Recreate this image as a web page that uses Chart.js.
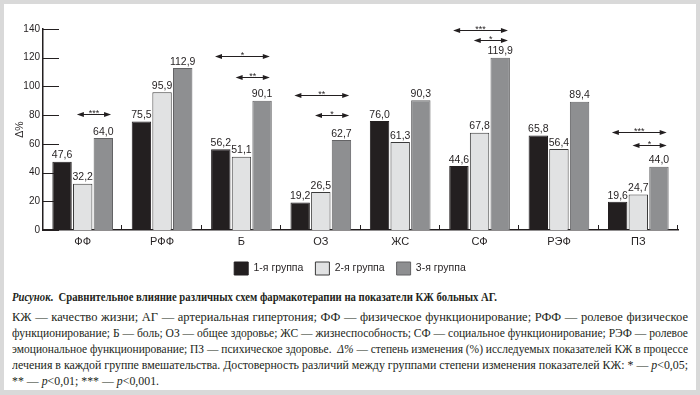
<!DOCTYPE html>
<html lang="ru">
<head>
    <meta charset="UTF-8">
    <title>Сравнительное влияние схем фармакотерапии на показатели КЖ</title>
    <script src="https://cdn.jsdelivr.net/npm/chart.js"></script>
    <style>
        body {
            margin: 0;
            width: 700px;
            height: 395px;
            background: #d9d9d9;
            position: relative;
            overflow: hidden;
        }
        .panel {
            position: absolute;
            left: 4px;
            top: 4px;
            width: 692px;
            height: 386px;
            background: #fff;
        }
        #chart {
            position: absolute;
            left: 0;
            top: 0;
        }
        .caption {
            position: absolute;
            left: 12px;
            top: 289px;
            width: 676px;
            font-family: "Liberation Serif", "Tinos", "DejaVu Serif", "Noto Serif", "Times New Roman", "Liberation Sans Narrow", serif;
            font-size: 12.5px;
            line-height: 16px;
            color: #231f20;
        }
        .caption .title {
            font-weight: bold;
            margin-bottom: 4px;
            white-space: nowrap;
        }
        .caption .line {
            text-align: justify;
            text-align-last: justify;
            white-space: nowrap;
        }
        .caption .line.last {
            text-align-last: left;
        }
        .caption span.fit {
            display: inline-block;
            transform-origin: 0 50%;
        }
    </style>
</head>
<body>
<div class="panel"></div>
<canvas id="chart" width="700" height="285"></canvas>
<div class="caption">
    <div class="title"><span><i>Рисунок</i>.&nbsp; Сравнительное влияние различных схем фармакотерапии на показатели КЖ больных АГ.</span></div>
    <div class="line"><span>КЖ — качество жизни; АГ — артериальная гипертония; ФФ — физическое функционирование; РФФ — ролевое физическое</span></div>
    <div class="line"><span>функционирование; Б — боль; ОЗ — общее здоровье; ЖС — жизнеспособность; СФ — социальное функционирование; РЭФ — ролевое</span></div>
    <div class="line"><span>эмоциональное функционирование; ПЗ — психическое здоровье. &nbsp;<i>Δ%</i> — степень изменения (%) исследуемых показателей КЖ в процессе</span></div>
    <div class="line"><span>лечения в каждой группе вмешательства. Достоверность различий между группами степени изменения показателей КЖ: * — <i>p</i>&lt;0,05;</span></div>
    <div class="line last"><span>** — <i>p</i>&lt;0,01; *** — <i>p</i>&lt;0,001.</span></div>
</div>
<script>
    // данные
    const categories = ['ФФ', 'РФФ', 'Б', 'ОЗ', 'ЖС', 'СФ', 'РЭФ', 'ПЗ'];
    const groupNames = ['1-я группа', '2-я группа', '3-я группа'];
    const group1 = [47.6, 75.5, 56.2, 19.2, 76.0, 44.6, 65.8, 19.6];
    const group2 = [32.2, 95.9, 51.1, 26.5, 61.3, 67.8, 56.4, 24.7];
    const group3 = [64.0, 112.9, 90.1, 62.7, 90.3, 119.9, 89.4, 44.0];
    const yTicks = [0, 20, 40, 60, 80, 100, 120, 140];

    // стрелки достоверности: показатель, группы сравнения, уровень (Δ%), звёздочки
    const sigCategory = [0, 2, 2, 3, 3, 5, 5, 7, 7];
    const sigFrom = [1, 0, 1, 0, 1, 0, 1, 0, 1];
    const sigTo = [2, 2, 2, 2, 2, 2, 2, 2, 2];
    const sigLevel = [81, 121, 106.5, 94, 80, 139, 132, 68, 59];
    const sigStars = ['***', '*', '**', '**', '*', '***', '*', '***', '*'];

    const INK = '#231f20';
    const SANS = 'Arial, "Liberation Sans", sans-serif';

    // если строка подписи шире колонки (нет узкого шрифта) — сжимаем её по ширине
    (function fitCaption() {
        const box = 676;
        const lines = Array.from(document.querySelectorAll('.caption .line'));
        let ratios = [];
        lines.forEach(div => {
            const span = div.firstElementChild;
            const w = span.getBoundingClientRect().width;
            if (!div.classList.contains('last')) ratios.push(Math.min(1, box / w));
            if (w > box) {
                span.classList.add('fit');
                span.style.transform = 'scaleX(' + (box / w) + ')';
            }
        });
        const avg = ratios.reduce((a, b) => a + b, 0) / ratios.length;
        if (avg < 1) {
            const last = document.querySelector('.caption .line.last span');
            last.classList.add('fit');
            last.style.transform = 'scaleX(' + avg + ')';
            // заголовок в оригинале занимает примерно 485 px
            const title = document.querySelector('.caption .title span');
            const tw = title.getBoundingClientRect().width;
            title.classList.add('fit');
            title.style.transform = 'scaleX(' + Math.min(avg, 485 / tw) + ')';
        }
    })();

    const axisMarks = {
        id: 'axisMarks',
        beforeDatasetsDraw(chart) {
            const ctx = chart.ctx;
            const area = chart.chartArea;
            const y = chart.scales.y;
            ctx.save();
            ctx.strokeStyle = INK;
            ctx.lineWidth = 1;
            // короткие риски оси Y внутрь
            yTicks.forEach(v => {
                const py = Math.round(y.getPixelForValue(v)) + 0.5;
                ctx.beginPath();
                ctx.moveTo(area.left, py);
                ctx.lineTo(area.left + 16, py);
                ctx.stroke();
            });
            // риски между категориями
            const step = (area.right - area.left) / categories.length;
            for (let i = 1; i <= categories.length; i++) {
                const px = Math.round(area.left + step * i) - 0.5;
                ctx.beginPath();
                ctx.moveTo(px, area.bottom);
                ctx.lineTo(px, area.bottom - 5);
                ctx.stroke();
            }
            ctx.restore();
        }
    };

    const valueLabels = {
        id: 'valueLabels',
        afterDatasetsDraw(chart) {
            const ctx = chart.ctx;
            ctx.save();
            ctx.font = '10.5px ' + SANS;
            ctx.fillStyle = INK;
            ctx.textAlign = 'center';
            ctx.textBaseline = 'bottom';
            chart.data.datasets.forEach((ds, di) => {
                chart.getDatasetMeta(di).data.forEach((bar, i) => {
                    ctx.fillText(ds.data[i].toFixed(1).replace('.', ','), bar.x, bar.y - 1);
                });
            });
            ctx.restore();
        }
    };

    function arrowHead(ctx, x, y, dir) {
        ctx.beginPath();
        ctx.moveTo(x, y);
        ctx.lineTo(x - dir * 7, y - 2.5);
        ctx.lineTo(x - dir * 7, y + 2.5);
        ctx.closePath();
        ctx.fill();
    }

    const sigArrows = {
        id: 'sigArrows',
        afterDatasetsDraw(chart) {
            const ctx = chart.ctx;
            const y = chart.scales.y;
            ctx.save();
            ctx.strokeStyle = INK;
            ctx.fillStyle = INK;
            ctx.lineWidth = 1;
            sigLevel.forEach((lvl, k) => {
                const a = chart.getDatasetMeta(sigFrom[k]).data[sigCategory[k]];
                const b = chart.getDatasetMeta(sigTo[k]).data[sigCategory[k]];
                const x1 = a.x - a.width * 0.3;
                const x2 = b.x + b.width * 0.4;
                const py = Math.round(y.getPixelForValue(lvl)) + 0.5;
                ctx.beginPath();
                ctx.moveTo(x1 + 4, py);
                ctx.lineTo(x2 - 4, py);
                ctx.stroke();
                arrowHead(ctx, x1, py, -1);
                arrowHead(ctx, x2, py, 1);
                ctx.font = '9px ' + SANS;
                ctx.textAlign = 'center';
                ctx.textBaseline = 'alphabetic';
                ctx.fillText(sigStars[k], (x1 + x2) / 2, py + 1);
            });
            ctx.restore();
        }
    };

    const ctx = document.getElementById('chart').getContext('2d');
    const chart = new Chart(ctx, {
        type: 'bar',
        data: {
            labels: categories,
            datasets: [
                { label: groupNames[0], data: group1, backgroundColor: '#231f20', borderColor: '#231f20', borderWidth: 1 },
                { label: groupNames[1], data: group2, backgroundColor: '#e1e2e3', borderColor: '#3a3a3a', borderWidth: 1 },
                { label: groupNames[2], data: group3, backgroundColor: '#8e8f91', borderColor: '#636365', borderWidth: 1 }
            ]
        },
        options: {
            responsive: false,
            animation: false,
            devicePixelRatio: 1,
            categoryPercentage: 0.78,
            barPercentage: 0.94,
            layout: { padding: { left: 0, right: 0, top: 29, bottom: 0 } },
            plugins: {
                tooltip: { enabled: false },
                legend: {
                    position: 'bottom',
                    labels: {
                        boxWidth: 14,
                        boxHeight: 13,
                        padding: 12,
                        color: INK,
                        font: { family: SANS, size: 10.5 }
                    }
                }
            },
            scales: {
                x: {
                    grid: { display: false, drawTicks: false },
                    border: { display: true, color: INK, width: 1.5 },
                    ticks: {
                        color: INK,
                        padding: 5,
                        font: { family: SANS, size: 11 }
                    },
                    afterFit(scale) { scale.height = 20; }
                },
                y: {
                    min: 0,
                    max: 140,
                    grid: { display: false, drawTicks: false },
                    border: { display: true, color: INK, width: 1.5 },
                    afterBuildTicks(scale) { scale.ticks = yTicks.map(v => ({ value: v })); },
                    ticks: {
                        color: INK,
                        padding: 3,
                        font: { family: SANS, size: 10 }
                    },
                    title: {
                        display: true,
                        text: 'Δ%',
                        color: INK,
                        padding: { top: 14, bottom: 0 },
                        font: { family: SANS, size: 10.5 }
                    },
                    afterFit(scale) { scale.width = 43; }
                },
                // пустое поле справа от области графика
                gap: {
                    position: 'right',
                    grid: { display: false },
                    border: { display: false },
                    ticks: { display: false },
                    afterFit(scale) { scale.width = 22; }
                }
            }
        },
        plugins: [axisMarks, valueLabels, sigArrows]
    });
</script>
</body>
</html>
